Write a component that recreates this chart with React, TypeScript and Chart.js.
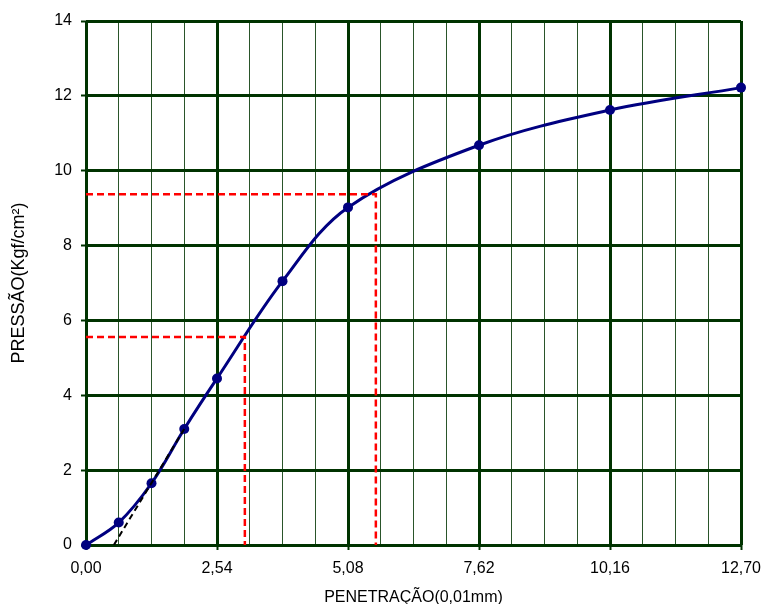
import React, { useEffect, useRef } from "react";
import { Chart, registerables } from "chart.js";

Chart.register(...registerables);

const penetration = [0, 0.635, 1.27, 1.905, 2.54, 3.81, 5.08, 7.62, 10.16, 12.7];
const pressure = [0, 0.6, 1.65, 3.1, 4.45, 7.05, 9.02, 10.68, 11.62, 12.22];

const xMajorTicks = [0, 2.54, 5.08, 7.62, 10.16, 12.7];
const xTickLabels = ["0,00", "2,54", "5,08", "7,62", "10,16", "12,70"];
const minorPerMajor = 4;

const correctionLineX = [0.54, 1.905];
const correctionLineY = [0, 3.1];

const guide1X = [0, 3.08, 3.08];
const guide1Y = [5.56, 5.56, 0];
const guide2X = [0, 5.62, 5.62];
const guide2Y = [9.37, 9.37, 0];

const xTitle = "PENETRAÇÃO(0,01mm)";
const yTitle = "PRESSÃO(Kgf/cm²)";

const pts = (xs: number[], ys: number[]) => xs.map((x, i) => ({ x, y: ys[i] }));

const FONT = "'Liberation Sans', Arial, sans-serif";
const GRID_MAJOR = "#003300";
const GRID_MINOR = "#2a552a";

export default function App() {
  const ref = useRef<HTMLCanvasElement | null>(null);

  useEffect(() => {
    if (!ref.current) return;
    const isMajor = (v: number) => xMajorTicks.some((m) => Math.abs(m - v) < 1e-6);
    const chart = new Chart(ref.current, {
      type: "scatter",
      data: {
        datasets: [
          {
            label: "guide1",
            data: pts(guide1X, guide1Y),
            showLine: true,
            borderColor: "#ff0000",
            borderWidth: 2.5,
            borderDash: [7, 4],
            pointRadius: 0,
            tension: 0,
            order: 1,
          },
          {
            label: "guide2",
            data: pts(guide2X, guide2Y),
            showLine: true,
            borderColor: "#ff0000",
            borderWidth: 2.5,
            borderDash: [7, 4],
            pointRadius: 0,
            tension: 0,
            order: 1,
          },
          {
            label: "correction",
            data: pts(correctionLineX, correctionLineY),
            showLine: true,
            borderColor: "#000000",
            borderWidth: 2,
            borderDash: [6, 4],
            pointRadius: 0,
            tension: 0,
            order: 0,
          },
          {
            label: "curve",
            data: pts(penetration, pressure),
            showLine: true,
            borderColor: "#000080",
            backgroundColor: "#000080",
            borderWidth: 3,
            pointRadius: 5,
            pointBackgroundColor: "#000080",
            pointBorderColor: "#000080",
            pointBorderWidth: 0,
            tension: 0.35,
            clip: false as any,
            order: 2,
          },
        ],
      },
      options: {
        animation: false,
        responsive: false,
        maintainAspectRatio: false,
        layout: { padding: { left: 10, right: 0, top: 21, bottom: 0 } },
        plugins: {
          legend: { display: false },
          tooltip: { enabled: false },
        },
        scales: {
          x: {
            type: "linear",
            min: 0,
            max: 12.7,
            afterBuildTicks: (scale: any) => {
              const t: any[] = [];
              for (let i = 0; i < xMajorTicks.length; i++) {
                t.push({ value: xMajorTicks[i] });
                if (i < xMajorTicks.length - 1) {
                  const a = xMajorTicks[i];
                  const b = xMajorTicks[i + 1];
                  for (let k = 1; k < minorPerMajor; k++) {
                    t.push({ value: a + ((b - a) * k) / minorPerMajor });
                  }
                }
              }
              scale.ticks = t;
            },
            afterFit: (scale: any) => {
              scale.height = 59;
              scale.paddingRight = 20;
            },
            border: { display: false },
            grid: {
              color: (ctx: any) => (isMajor(ctx.tick?.value) ? GRID_MAJOR : GRID_MINOR),
              lineWidth: (ctx: any) => (isMajor(ctx.tick?.value) ? 3 : 1),
              tickColor: (ctx: any) => (isMajor(ctx.tick?.value) ? GRID_MAJOR : "rgba(0,0,0,0)"),
              tickWidth: 2,
              tickLength: 5,
              drawTicks: true,
            },
            ticks: {
              autoSkip: false,
              maxRotation: 0,
              padding: 9,
              color: "#000",
              font: { family: FONT, size: 16 },
              callback: (v: any) => {
                const i = xMajorTicks.findIndex((m) => Math.abs(m - Number(v)) < 1e-6);
                return i >= 0 ? xTickLabels[i] : "";
              },
            },
            title: {
              display: true,
              text: xTitle,
              color: "#000",
              font: { family: FONT, size: 16, lineHeight: 1 },
              padding: { top: 0, bottom: -2 },
            },
          },
          y: {
            type: "linear",
            min: 0,
            max: 14,
            ticks: {
              stepSize: 2,
              padding: 9,
              color: "#000",
              font: { family: FONT, size: 16 },
            },
            afterFit: (scale: any) => {
              scale.width = 76;
            },
            border: { display: false },
            grid: {
              color: GRID_MAJOR,
              lineWidth: 3,
              tickColor: GRID_MAJOR,
              tickWidth: 2,
              tickLength: 5,
            },
            title: {
              display: true,
              text: yTitle,
              color: "#000",
              font: { family: FONT, size: 18, lineHeight: 1 },
              padding: { top: 0, bottom: 0 },
            },
          },
        },
      },
    });
    return () => chart.destroy();
  }, []);

  return (
    <div style={{ position: "fixed", left: 0, top: 0, width: 761, height: 604, background: "#fff" }}>
      <canvas ref={ref} width={761} height={604} style={{ display: "block", width: 761, height: 604 }} />
    </div>
  );
}
